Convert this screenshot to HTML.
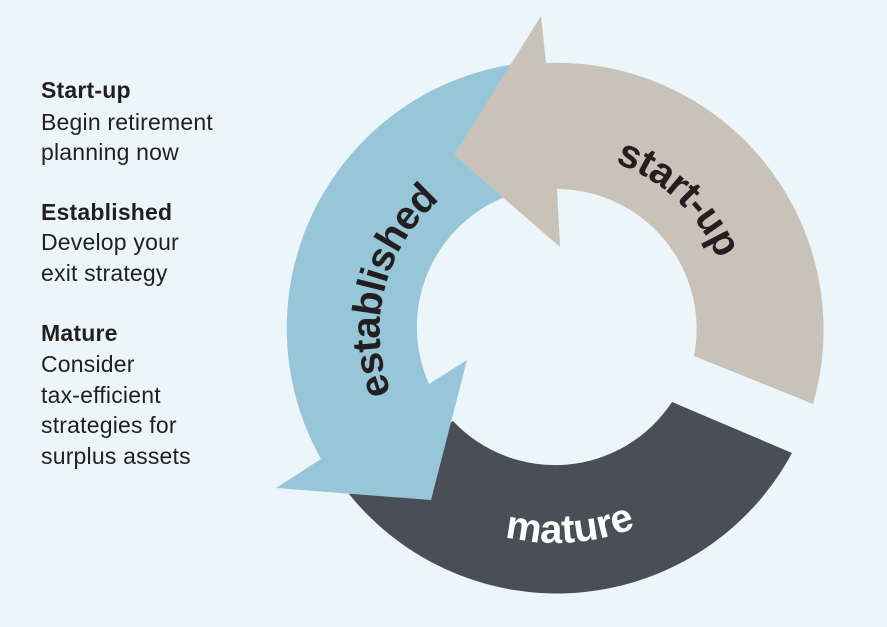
<!DOCTYPE html>
<html><head><meta charset="utf-8"><style>
html,body{margin:0;padding:0;background:#ecf5f9;}
svg{display:block;}
</style></head><body>
<svg width="887" height="627" viewBox="0 0 887 627" xmlns="http://www.w3.org/2000/svg">
<rect width="887" height="627" fill="#ecf5f9"/>
<g font-family="Liberation Sans, sans-serif" font-size="23" fill="#231f20" letter-spacing="0.2">
<text x="41" y="98" font-weight="bold">Start-up</text>
<text x="41" y="130">Begin retirement</text>
<text x="41" y="160">planning now</text>
<text x="41" y="220" font-weight="bold">Established</text>
<text x="41" y="250">Develop your</text>
<text x="41" y="281">exit strategy</text>
<text x="41" y="341" font-weight="bold">Mature</text>
<text x="41" y="372">Consider</text>
<text x="41" y="403">tax-efficient</text>
<text x="41" y="433">strategies for</text>
<text x="41" y="464">surplus assets</text>
</g>
<path d="M792,453 A267 267 0 0 1 349,494 L453,421 A140 140 0 0 0 672,402 Z" fill="#4a4f57"/>
<path d="M515,64 A267 267 0 0 0 321,459 L276,488 L431,500 L467,360 L429,384 A140 140 0 0 1 510,195 Z" fill="#96c6d7"/>
<path d="M546,63 A267 267 0 0 1 813,404 L694,356 A140 140 0 0 0 557,189 L560,247 L454,155 L541,16 Z" fill="#c9c2b8"/>
<defs>
<path id="p1" d="M559,153 A175 175 0 0 1 731,309"/>
<path id="p2" d="M419,440 A172 172 0 0 1 460,185"/>
<path id="p3" d="M430,502 A215 215 0 0 0 705,483"/>
</defs>
<g font-family="Liberation Sans, sans-serif" font-size="40" font-weight="bold">
<text fill="#231f20" letter-spacing="-0.5"><textPath href="#p1" startOffset="51%" text-anchor="middle">start-up</textPath></text>
<text fill="#231f20" letter-spacing="-0.8"><textPath href="#p2" startOffset="55%" text-anchor="middle">established</textPath></text>
<text fill="#ffffff"><textPath href="#p3" startOffset="50%" text-anchor="middle">mature</textPath></text>
</g>
</svg>
</body></html>
